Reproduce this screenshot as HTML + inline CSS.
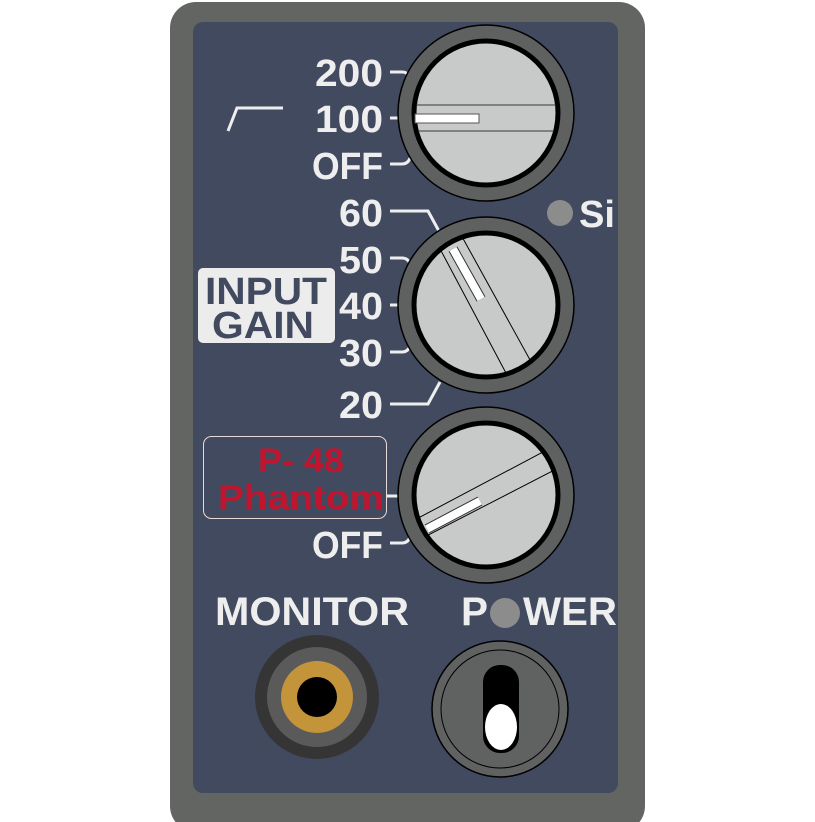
<!DOCTYPE html>
<html><head><style>body{margin:0;background:#fff}svg{display:block}</style></head><body>
<svg width="815" height="822" viewBox="0 0 815 822" xmlns="http://www.w3.org/2000/svg" font-family="Liberation Sans, sans-serif" font-weight="bold">
<rect x="170" y="2" width="475" height="830" rx="26" fill="#636563"/>
<rect x="193" y="22" width="425" height="771" rx="10" fill="#424a60"/>
<g fill="none" stroke="#eeeeee" stroke-width="3">
<path d="M228 131 L237 108 L283 108"/>
<path d="M390 72 h12 q6 0 8 6"/><path d="M390 118 h14"/><path d="M390 164 h12 q6 0 8 -6"/>
<path d="M390 211 h38 l12 22"/><path d="M390 258 h12 q6 0 8 6"/><path d="M390 305 h14"/><path d="M390 352 h12 q6 0 8 -6"/><path d="M390 404 h38 l12 -22"/>
<path d="M386 496 h20"/><path d="M390 543 h12 q6 0 8 -6"/>
</g>
<g fill="#eeeeee" font-size="38" lengthAdjust="spacingAndGlyphs">
<text x="315" y="86" textLength="68" lengthAdjust="spacingAndGlyphs">200</text>
<text x="315" y="132" textLength="68" lengthAdjust="spacingAndGlyphs">100</text>
<text x="312" y="179" textLength="71" lengthAdjust="spacingAndGlyphs">OFF</text>
<text x="339" y="226" textLength="44" lengthAdjust="spacingAndGlyphs">60</text>
<text x="339" y="273" textLength="44" lengthAdjust="spacingAndGlyphs">50</text>
<text x="339" y="319" textLength="44" lengthAdjust="spacingAndGlyphs">40</text>
<text x="339" y="366" textLength="44" lengthAdjust="spacingAndGlyphs">30</text>
<text x="339" y="418" textLength="44" lengthAdjust="spacingAndGlyphs">20</text>
<text x="312" y="558" textLength="71" lengthAdjust="spacingAndGlyphs">OFF</text>
</g>
<defs><clipPath id="c1"><circle cx="486" cy="113" r="70"/></clipPath><clipPath id="c2"><circle cx="486" cy="305" r="70"/></clipPath><clipPath id="c3"><circle cx="486" cy="495" r="70"/></clipPath></defs>
<g stroke="#000">
<circle cx="486" cy="113" r="88" fill="#5f6160" stroke-width="1.5"/><circle cx="486" cy="113" r="72" fill="#c8cac9" stroke-width="5"/>
<circle cx="486" cy="305" r="88" fill="#5f6160" stroke-width="1.5"/><circle cx="486" cy="305" r="72" fill="#c8cac9" stroke-width="5"/>
<circle cx="486" cy="495" r="88" fill="#5f6160" stroke-width="1.5"/><circle cx="486" cy="495" r="72" fill="#c8cac9" stroke-width="5"/>
</g>
<g clip-path="url(#c1)" stroke="#555" stroke-width="1.2"><line x1="400" y1="105" x2="570" y2="105"/><line x1="400" y1="131" x2="570" y2="131"/></g>
<rect x="415" y="114" width="64" height="9" fill="#fff" stroke="#555"/>
<g clip-path="url(#c2)" stroke="#000" stroke-width="1"><line x1="430" y1="230" x2="515" y2="390"/><line x1="455" y1="224" x2="540" y2="378"/></g>
<line x1="453" y1="249" x2="481" y2="299" stroke="#333" stroke-width="10"/><line x1="453" y1="249" x2="481" y2="299" stroke="#fff" stroke-width="8"/>
<g clip-path="url(#c3)" stroke="#000" stroke-width="1"><line x1="405" y1="525" x2="560" y2="443"/><line x1="405" y1="547" x2="570" y2="462"/></g>
<line x1="427" y1="529" x2="480" y2="501" stroke="#333" stroke-width="10"/><line x1="427" y1="529" x2="480" y2="501" stroke="#fff" stroke-width="8"/>
<rect x="198" y="268" width="137" height="75" rx="5" fill="#ececec"/>
<g fill="#424a60" font-size="38">
<text x="205" y="304" textLength="122" lengthAdjust="spacingAndGlyphs">INPUT</text>
<text x="212" y="338" textLength="102" lengthAdjust="spacingAndGlyphs">GAIN</text></g>
<rect x="203.5" y="436.5" width="183" height="82" rx="8" fill="none" stroke="#e8d8d8" stroke-width="1"/>
<g fill="#c0152e" font-size="34">
<text x="258" y="472" textLength="86" lengthAdjust="spacingAndGlyphs">P- 48</text>
<text x="218" y="509" textLength="166" lengthAdjust="spacingAndGlyphs">Phantom</text></g>
<circle cx="560" cy="213" r="13" fill="#8c8c8c"/>
<text x="579" y="227" fill="#eeeeee" font-size="38" textLength="36" lengthAdjust="spacingAndGlyphs">Si</text>
<text x="215" y="625" fill="#eeeeee" font-size="40" textLength="194" lengthAdjust="spacingAndGlyphs">MONITOR</text>
<text x="461" y="625" fill="#eeeeee" font-size="40" textLength="27" lengthAdjust="spacingAndGlyphs">P</text>
<circle cx="505" cy="613" r="15" fill="#8c8c8c"/>
<text x="523" y="625" fill="#eeeeee" font-size="40" textLength="94" lengthAdjust="spacingAndGlyphs">WER</text>
<circle cx="317" cy="697" r="62" fill="#353535"/><circle cx="317" cy="697" r="50" fill="#5a5a5a"/><circle cx="317" cy="697" r="36" fill="#c4943a"/><circle cx="317" cy="697" r="20" fill="#000"/>
<circle cx="500" cy="709" r="68" fill="#606261" stroke="#000" stroke-width="1.5"/><circle cx="500" cy="709" r="59" fill="none" stroke="#000" stroke-width="1"/>
<rect x="483" y="665" width="36" height="88" rx="17" fill="#000"/>
<ellipse cx="501" cy="727" rx="16" ry="23" fill="#fff"/>
</svg>
</body></html>
